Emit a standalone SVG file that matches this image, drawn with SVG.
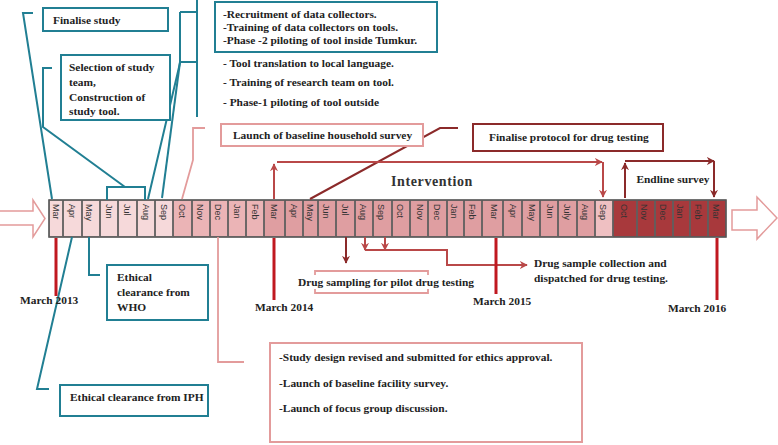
<svg xmlns="http://www.w3.org/2000/svg" width="778" height="445" viewBox="0 0 778 445">
<defs>
<style>
.bx{font-family:"Liberation Serif",serif;font-weight:bold;font-size:11.4px;fill:#222}
.mon{font-family:"Liberation Sans",sans-serif;font-size:9px;fill:#333}
.teal{fill:none;stroke:#217f93;stroke-width:2}
.tealbox{fill:#fff;stroke:#217f93;stroke-width:2}
.pink{fill:none;stroke:#e39b9b;stroke-width:1.8}
.pinkbox{fill:#fff;stroke:#e39b9b;stroke-width:2}
.dred{fill:none;stroke:#8b2a2a;stroke-width:2}
.dredbox{fill:#fff;stroke:#8b2a2a;stroke-width:2}
.mred{fill:none;stroke:#b94848;stroke-width:2}
.crim{fill:none;stroke:#c01820;stroke-width:3}
.cell{stroke:#5a5a5a;stroke-width:0.8}
.a{fill:#f6d9da}.b{fill:#ebb4b6}.c{fill:#df9ea1}.s{fill:#efc0c2}.d{fill:#a8393c}
</style>
<marker id="ad" viewBox="0 0 10 10" refX="9" refY="5" markerWidth="4" markerHeight="4" orient="auto" markerUnits="strokeWidth"><path d="M0,0 L10,5 L0,10 L3,5 z" fill="#8b2a2a"/></marker>
<marker id="am" viewBox="0 0 10 10" refX="9" refY="5" markerWidth="4" markerHeight="4" orient="auto" markerUnits="strokeWidth"><path d="M0,0 L10,5 L0,10 L3,5 z" fill="#b94848"/></marker>
</defs>

<g id="timeline">
<path d="M0,211 H33 V200 L45,218.5 L33,237 V225 H0" fill="#fff" stroke="#e39b9b" stroke-width="1.5"/>
<path d="M732,210 H757 V197 L777,218 L757,239 V230 H732 Z" fill="#fff" stroke="#e39b9b" stroke-width="1.5"/>
<rect x="49" y="200" width="677" height="37" fill="#888" stroke="#444" stroke-width="1.5"/>
<rect class="cell a" x="49.5" y="200.5" width="13" height="36"/>
<rect class="cell a" x="63.5" y="200.5" width="18" height="36"/>
<rect class="cell a" x="82.5" y="200.5" width="17" height="36"/>
<rect class="cell a" x="100.5" y="200.5" width="17" height="36"/>
<rect class="cell a" x="118.5" y="200.5" width="18" height="36"/>
<rect class="cell a" x="137.5" y="200.5" width="17" height="36"/>
<rect class="cell a" x="155.5" y="200.5" width="17" height="36"/>
<rect class="cell b" x="173.5" y="200.5" width="18" height="36"/>
<rect class="cell b" x="192.5" y="200.5" width="17" height="36"/>
<rect class="cell b" x="210.5" y="200.5" width="17" height="36"/>
<rect class="cell b" x="228.5" y="200.5" width="17" height="36"/>
<rect class="cell b" x="246.5" y="200.5" width="17" height="36"/>
<rect class="cell c" x="264.5" y="200.5" width="20" height="36"/>
<rect class="cell c" x="285.5" y="200.5" width="17" height="36"/>
<rect class="cell c" x="303.5" y="200.5" width="14" height="36"/>
<rect class="cell c" x="318.5" y="200.5" width="17" height="36"/>
<rect class="cell c" x="336.5" y="200.5" width="18" height="36"/>
<rect class="cell c" x="355.5" y="200.5" width="17" height="36"/>
<rect class="cell c" x="373.5" y="200.5" width="18" height="36"/>
<rect class="cell c" x="392.5" y="200.5" width="17" height="36"/>
<rect class="cell c" x="410.5" y="200.5" width="17" height="36"/>
<rect class="cell c" x="428.5" y="200.5" width="18" height="36"/>
<rect class="cell c" x="447.5" y="200.5" width="16" height="36"/>
<rect class="cell c" x="464.5" y="200.5" width="17" height="36"/>
<rect class="cell c" x="482.5" y="200.5" width="20" height="36"/>
<rect class="cell c" x="503.5" y="200.5" width="18" height="36"/>
<rect class="cell c" x="522.5" y="200.5" width="17" height="36"/>
<rect class="cell c" x="540.5" y="200.5" width="17" height="36"/>
<rect class="cell c" x="558.5" y="200.5" width="18" height="36"/>
<rect class="cell c" x="577.5" y="200.5" width="17" height="36"/>
<rect class="cell s" x="595.5" y="200.5" width="17" height="36"/>
<rect class="cell d" x="613.5" y="200.5" width="23" height="36"/>
<rect class="cell d" x="637.5" y="200.5" width="17" height="36"/>
<rect class="cell d" x="655.5" y="200.5" width="17" height="36"/>
<rect class="cell d" x="673.5" y="200.5" width="16" height="36"/>
<rect class="cell d" x="690.5" y="200.5" width="17" height="36"/>
<rect class="cell d" x="708.5" y="200.5" width="17" height="36"/>
<g class="mon">
<text transform="translate(56,204) rotate(90)" dy="0.35em">Mar</text>
<text transform="translate(72,204) rotate(90)" dy="0.35em">Apr</text>
<text transform="translate(89,204) rotate(90)" dy="0.35em">May</text>
<text transform="translate(109,204) rotate(90)" dy="0.35em">Jun</text>
<text transform="translate(127,204) rotate(90)" dy="0.35em">Jul</text>
<text transform="translate(146,204) rotate(90)" dy="0.35em">Aug</text>
<text transform="translate(164,204) rotate(90)" dy="0.35em">Sep</text>
<text transform="translate(182,204) rotate(90)" dy="0.35em">Oct</text>
<text transform="translate(200,204) rotate(90)" dy="0.35em">Nov</text>
<text transform="translate(218,204) rotate(90)" dy="0.35em">Dec</text>
<text transform="translate(237,204) rotate(90)" dy="0.35em">Jan</text>
<text transform="translate(255,204) rotate(90)" dy="0.35em">Feb</text>
<text transform="translate(274,204) rotate(90)" dy="0.35em">Mar</text>
<text transform="translate(294,204) rotate(90)" dy="0.35em">Apr</text>
<text transform="translate(310,204) rotate(90)" dy="0.35em">May</text>
<text transform="translate(326,204) rotate(90)" dy="0.35em">Jun</text>
<text transform="translate(345,204) rotate(90)" dy="0.35em">Jul</text>
<text transform="translate(363,204) rotate(90)" dy="0.35em">Aug</text>
<text transform="translate(381,204) rotate(90)" dy="0.35em">Sep</text>
<text transform="translate(400,204) rotate(90)" dy="0.35em">Oct</text>
<text transform="translate(420,204) rotate(90)" dy="0.35em">Nov</text>
<text transform="translate(437,204) rotate(90)" dy="0.35em">Dec</text>
<text transform="translate(454,204) rotate(90)" dy="0.35em">Jan</text>
<text transform="translate(472,204) rotate(90)" dy="0.35em">Feb</text>
<text transform="translate(494,204) rotate(90)" dy="0.35em">Mar</text>
<text transform="translate(513,204) rotate(90)" dy="0.35em">Apr</text>
<text transform="translate(532,204) rotate(90)" dy="0.35em">May</text>
<text transform="translate(550,204) rotate(90)" dy="0.35em">Jun</text>
<text transform="translate(567,204) rotate(90)" dy="0.35em">July</text>
<text transform="translate(585,204) rotate(90)" dy="0.35em">Aug</text>
<text transform="translate(603,204) rotate(90)" dy="0.35em">Sep</text>
<text transform="translate(624,204) rotate(90)" dy="0.35em">Oct</text>
<text transform="translate(644,204) rotate(90)" dy="0.35em">Nov</text>
<text transform="translate(663,204) rotate(90)" dy="0.35em">Dec</text>
<text transform="translate(680,204) rotate(90)" dy="0.35em">Jan</text>
<text transform="translate(698,204) rotate(90)" dy="0.35em">Feb</text>
<text transform="translate(716,204) rotate(90)" dy="0.35em">Mar</text>
</g>
</g>

<g id="connectors">
<polyline class="teal" points="33,13 23,13 52,199"/>
<polyline class="teal" points="52,68 43,68 43,127 125,187"/>
<polyline class="teal" points="107,200 107,187 145,187 145,200"/>
<polyline class="teal" points="180,12 197,12"/>
<polyline class="teal" points="180,62 197,62"/>
<line class="teal" x1="197" y1="0" x2="197" y2="117"/>
<polyline class="teal" points="180,12 180,63 148,199"/>
<polyline class="teal" points="180,62 162,198"/>
<polyline class="teal" points="89,237 89,275 100,275"/>
<polyline class="teal" points="72,237 37,389 49,389"/>
<polyline class="pink" points="205,128 193,128 193,160 182,199"/>
<polyline class="pink" points="218,237 218,362 244,362"/>
<polyline class="pink" points="315,275 315,271 428,271 428,275"/>
<polyline class="pink" points="315,289 315,293 428,293 428,289"/>
<polyline class="dred" points="458,128 440,128 310,199"/>
<line class="dred" x1="346" y1="237" x2="346" y2="263" marker-end="url(#ad)"/>
<line class="dred" x1="625" y1="198" x2="625" y2="163" marker-end="url(#ad)"/>
<line class="dred" x1="625" y1="161" x2="714" y2="161" marker-end="url(#ad)"/>
<line class="dred" x1="714" y1="161" x2="714" y2="197" marker-end="url(#ad)"/>
<line class="mred" x1="274" y1="199" x2="274" y2="164" marker-end="url(#am)"/>
<line class="mred" x1="277" y1="162" x2="602" y2="162" marker-end="url(#am)"/>
<line class="mred" x1="603" y1="162" x2="603" y2="197" marker-end="url(#am)"/>
<line class="mred" x1="365" y1="237" x2="365" y2="250" marker-end="url(#am)"/>
<line class="mred" x1="385" y1="237" x2="385" y2="250" marker-end="url(#am)"/>
<polyline class="mred" points="365,250 447,250 447,265 527,265" marker-end="url(#am)"/>
<line class="crim" x1="56" y1="238" x2="56" y2="296"/>
<line class="crim" x1="274" y1="238" x2="274" y2="300"/>
<line class="crim" x1="496" y1="238" x2="496" y2="294"/>
<line class="crim" x1="717" y1="238" x2="717" y2="300"/>
</g>

<g id="finalise-study">
<rect class="tealbox" x="43" y="8" width="125" height="23"/>
<text class="bx" x="53" y="24">Finalise study</text>
</g>
<g id="selection">
<rect class="tealbox" x="61" y="55" width="109" height="65"/>
<text class="bx" x="69" y="71">Selection of study</text>
<text class="bx" x="69" y="86">team,</text>
<text class="bx" x="69" y="101">Construction  of</text>
<text class="bx" x="69" y="115">study tool.</text>
</g>
<g id="recruitment">
<rect class="tealbox" x="215" y="2" width="222" height="50"/>
<text class="bx" x="223" y="18">-Recruitment of data collectors.</text>
<text class="bx" x="223" y="31">-Training of data collectors on tools.</text>
<text class="bx" x="223" y="44">-Phase -2 piloting of tool inside Tumkur.</text>
</g>
<g id="tool-translation">
<text class="bx" x="223" y="67">- Tool translation to local language.</text>
<text class="bx" x="223" y="86">- Training of research team on tool.</text>
<text class="bx" x="223" y="106">- Phase-1 piloting of tool outside</text>
</g>
<g id="launch-household">
<rect class="pinkbox" x="221" y="124" width="202" height="22"/>
<text class="bx" x="233" y="139">Launch of baseline household survey</text>
</g>
<g id="finalise-protocol">
<rect class="dredbox" x="473" y="124" width="190" height="27"/>
<text class="bx" x="489" y="141">Finalise protocol for drug testing</text>
</g>
<g id="intervention">
<text x="432" y="186" text-anchor="middle" font-family="Liberation Serif, serif" font-weight="bold" font-size="14" letter-spacing="0.6" fill="#333">Intervention</text>
</g>
<g id="endline">
<text class="bx" x="673" y="183" text-anchor="middle" font-size="11.5">Endline survey</text>
</g>
<g id="drug-sampling">
<text class="bx" x="386" y="286" text-anchor="middle">Drug sampling for pilot  drug testing</text>
</g>
<g id="drug-collection">
<text class="bx" x="534" y="267">Drug sample collection  and</text>
<text class="bx" x="534" y="282">dispatched for drug testing.</text>
</g>
<g id="march-labels">
<text class="bx" x="20" y="304">March 2013</text>
<text class="bx" x="255" y="311">March 2014</text>
<text class="bx" x="473" y="305">March 2015</text>
<text class="bx" x="668" y="312">March 2016</text>
</g>
<g id="who">
<rect class="tealbox" x="107" y="265" width="101" height="55"/>
<text class="bx" x="117" y="281">Ethical</text>
<text class="bx" x="117" y="296">clearance from</text>
<text class="bx" x="117" y="311">WHO</text>
</g>
<g id="iph">
<rect class="tealbox" x="60" y="385" width="148" height="31"/>
<text class="bx" x="70" y="401">Ethical clearance from IPH</text>
</g>
<g id="study-design">
<rect class="pinkbox" x="270" y="343" width="312" height="99"/>
<text class="bx" x="279" y="361">-Study design revised and submitted for ethics approval.</text>
<text class="bx" x="279" y="387">-Launch of baseline facility survey.</text>
<text class="bx" x="279" y="412">-Launch of focus group discussion.</text>
</g>
</svg>
